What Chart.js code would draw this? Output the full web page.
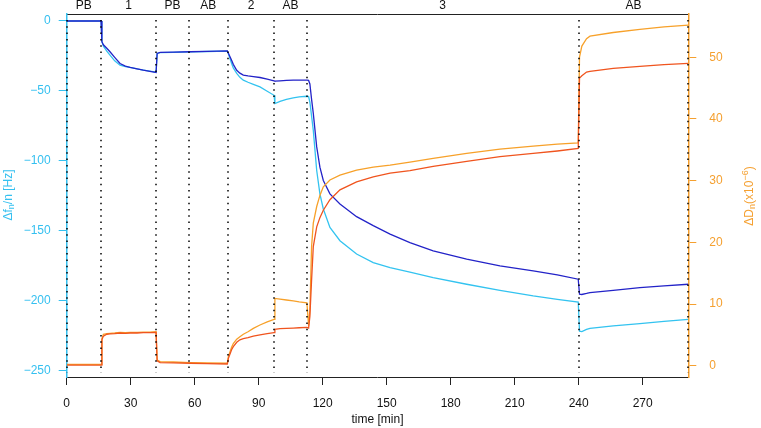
<!DOCTYPE html>
<html>
<head>
<meta charset="utf-8">
<script src="https://cdn.jsdelivr.net/npm/chart.js@4.4.1/dist/chart.umd.min.js"></script>
<style>
  html, body { margin: 0; padding: 0; background: #fff; }
  #wrap { width: 761px; height: 428px; }
</style>
</head>
<body>
<div id="wrap"><canvas id="qcmd" width="761" height="428"></canvas></div>
<script>
// time axis [min], shared by the four traces (repeated steps = buffer changes)
const timeMin = [
  0, 16.1, 16.5, 17.2, 18.8, 20.3, 22.5, 25, 27.5, 29.7, 33, 35.9, 39, 41.9,
  42.4, 43.8, 50, 57.8, 66, 75.3, 75.8, 77.3, 78.1, 79.7, 81.2, 82.8, 85, 87.5,
  90.6, 94, 97.2, 97.6, 100, 103, 106.2, 109, 112.6, 113.4, 114, 114.8, 115.6,
  117.2, 118.7, 120.3, 123.4, 128.1, 135.9, 143.7, 151.6, 160.9, 171.8, 187.5,
  203.1, 218.7, 230, 239.8, 240.4, 241.5, 243.7, 245.3, 256.2, 268.7, 280, 291.4
];
// frequency shift, dark blue overtone [Hz]
const dfBlue = [
  0, 0, -14.8, -17, -19.5, -22, -26, -30.4, -32.3, -33.2, -34.3, -35.2, -36, -36.8,
  -23.2, -22.5, -22.3, -22, -21.7, -21.3, -23, -28, -31, -35.2, -37.3, -38.7, -39.3, -39.8,
  -40.4, -41.6, -42.8, -43, -42.8, -42.5, -42.3, -42.3, -42.3, -42.5, -45, -56, -66,
  -90, -104.5, -114, -123.6, -130.8, -139.9, -146.3, -152.3, -158.5, -164.3, -170.2,
  -175, -178.6, -181.5, -184.6, -195.3, -195.5, -194.8, -194.2, -192.5, -190.6, -189.3, -188.2
];
// frequency shift, cyan overtone [Hz]
const dfCyan = [
  0, 0, -14.8, -18, -21.5, -24.4, -28.5, -31.6, -32.6, -33.2, -34.3, -35.1, -35.9, -36.6,
  -23.2, -22.6, -22.4, -22.1, -21.8, -21.6, -23.5, -30.4, -33.5, -37.5, -40.3, -42.3, -43.8, -45.3,
  -47.1, -50.2, -53.1, -59, -57.5, -56, -55, -54.3, -53.8, -54, -58, -68, -78.2,
  -106.9, -123.6, -134.4, -147.6, -157.1, -166.6, -172.7, -176.3, -179.5, -183.4, -188.2,
  -192.5, -196.5, -199, -200.9, -221.7, -222, -220.5, -219.7, -218, -216.4, -214.8, -213.3
];
// dissipation shift, red-orange overtone [x1e-6]
const dDRed = [
  0.1, 0.1, 4.2, 4.8, 5.1, 5.15, 5.2, 5.3, 5.25, 5.3, 5.3, 5.35, 5.35, 5.4,
  0.8, 0.5, 0.45, 0.4, 0.35, 0.28, 1.2, 2.6, 3.1, 3.8, 4.2, 4.4, 4.55, 4.8,
  5.0, 5.2, 5.35, 5.9, 6.0, 6.05, 6.1, 6.15, 6.2, 6.1, 8, 13.9, 19.3,
  22.5, 24, 25.2, 26.9, 28.5, 29.8, 30.6, 31.2, 31.6, 32.3, 33.1,
  33.9, 34.4, 34.8, 35.2, 46.6, 47, 47.6, 47.7, 48.2, 48.5, 48.8, 49.0
];
// dissipation shift, orange overtone [x1e-6]
const dDOrange = [
  0.2, 0.2, 4.4, 5.1, 5.2, 5.25, 5.3, 5.4, 5.35, 5.4, 5.4, 5.45, 5.45, 5.5,
  0.9, 0.65, 0.6, 0.5, 0.45, 0.4, 1.5, 3.0, 3.6, 4.3, 4.7, 5.1, 5.5, 6.05,
  6.6, 7.1, 7.5, 10.9, 10.8, 10.65, 10.5, 10.35, 10.2, 6.5, 9, 19.3, 23.1,
  25.8, 27.6, 29, 30.1, 30.9, 31.7, 32.2, 32.5, 33.0, 33.6, 34.4,
  35.1, 35.6, 35.9, 36.1, 50, 51.8, 53.0, 53.4, 54.0, 54.5, 54.9, 55.2
];

const xTicks = [0, 30, 60, 90, 120, 150, 180, 210, 240, 270];
const fTicks = [0, -50, -100, -150, -200, -250];
const dTicks = [0, 10, 20, 30, 40, 50];
const phaseEdges = [0, 16.1, 41.9, 57.3, 75.5, 97.3, 112.5, 240, 291.4];
const phaseNames = ['PB', '1', 'PB', 'AB', '2', 'AB', '3', 'AB'];

const FONT = '"Liberation Sans", Arial, Helvetica, sans-serif';
const CYAN = '#35c0f0';
const ORANGE = '#f5a030';
const INK = '#111';

function pts(ys) { return timeMin.map((t, i) => ({ x: t, y: ys[i] })); }

function minus(v) { return v < 0 ? '\u2212' + Math.abs(v) : String(v); }

// keep the plot box where the reference has it (no label overhang padding)
function noPad(s) { s.paddingTop = 0; s.paddingBottom = 0; s.paddingLeft = 0; s.paddingRight = 0; }

// dotted vertical lines at the buffer changes
const phaseLines = {
  id: 'phaseLines',
  afterDatasetsDraw(chart) {
    const { ctx, chartArea, scales } = chart;
    ctx.save();
    ctx.strokeStyle = '#000';
    ctx.lineWidth = 1.5;
    ctx.setLineDash([1.5, 4.8]);
    phaseEdges.forEach(t => {
      const x = Math.round(scales.x.getPixelForValue(t));
      ctx.beginPath();
      ctx.moveTo(x, chartArea.top + 6);
      ctx.lineTo(x, chartArea.bottom - 4);
      ctx.stroke();
    });
    ctx.restore();
  }
};

// rotated axis titles with sub/superscripts
function drawRich(ctx, parts, cx, cy, color) {
  ctx.save();
  ctx.translate(cx, cy);
  ctx.rotate(-Math.PI / 2);
  ctx.fillStyle = color;
  ctx.textBaseline = 'middle';
  ctx.textAlign = 'left';
  const fontOf = p => (p.sub || p.sup ? '9px ' : '12px ') + FONT;
  let w = 0;
  parts.forEach(p => { ctx.font = fontOf(p); w += ctx.measureText(p.t).width; });
  let x = -w / 2;
  parts.forEach(p => {
    ctx.font = fontOf(p);
    const dy = p.sub ? 3 : p.sup ? -4.5 : 0;
    ctx.fillText(p.t, x, dy);
    x += ctx.measureText(p.t).width;
  });
  ctx.restore();
}

const axisTitles = {
  id: 'axisTitles',
  afterDraw(chart) {
    const { ctx } = chart;
    drawRich(ctx, [{ t: '\u0394f' }, { t: 'n', sub: true }, { t: '/n [Hz]' }], 9, 195, CYAN);
    drawRich(ctx, [{ t: '\u0394D' }, { t: 'n', sub: true }, { t: '(x10' }, { t: '\u22126', sup: true }, { t: ')' }], 750, 196, ORANGE);
  }
};

const line = (label, ys, color, axis) => ({
  label, data: pts(ys), yAxisID: axis, xAxisID: 'x',
  borderColor: color, borderWidth: 1.3, pointRadius: 0, tension: 0, fill: false
});

new Chart(document.getElementById('qcmd'), {
  type: 'line',
  data: {
    datasets: [
      line('\u0394D red', dDRed, '#f0541e', 'yD'),
      line('\u0394D orange', dDOrange, '#f7a12a', 'yD'),
      line('\u0394f blue', dfBlue, '#2323c8', 'yF'),
      line('\u0394f cyan', dfCyan, '#33c3f0', 'yF')
    ]
  },
  options: {
    responsive: false,
    animation: false,
    devicePixelRatio: 1,
    layout: { padding: 0 },
    plugins: { legend: { display: false }, tooltip: { enabled: false } },
    scales: {
      x: {
        type: 'linear', position: 'bottom', min: 0, max: 291.4,
        afterBuildTicks: s => { s.ticks = xTicks.map(v => ({ value: v })); },
        afterFit: s => { s.height = 51; noPad(s); },
        ticks: { color: INK, font: { size: 12, family: FONT }, padding: 11, maxRotation: 0, autoSkip: false },
        grid: { drawOnChartArea: false, tickLength: 8, color: '#222' },
        border: { color: '#222', width: 1 },
        title: { display: true, text: 'time [min]', color: INK, font: { size: 12, family: FONT }, padding: { top: 0, bottom: 1 } }
      },
      xTop: {
        type: 'linear', position: 'top', min: 0, max: 291.4,
        afterBuildTicks: s => {
          s.ticks = phaseNames.map((n, i) => ({ value: (phaseEdges[i] + phaseEdges[i + 1]) / 2 }));
        },
        afterFit: s => { s.height = 14; noPad(s); },
        ticks: {
          color: INK, font: { size: 12, family: FONT }, padding: 1, maxRotation: 0, autoSkip: false,
          callback: (v, i) => phaseNames[i]
        },
        grid: { drawOnChartArea: false, drawTicks: false },
        border: { color: '#222', width: 1 }
      },
      yF: {
        type: 'linear', position: 'left', min: -254.5, max: 5,
        afterBuildTicks: s => { s.ticks = fTicks.map(v => ({ value: v })); },
        afterFit: s => { s.width = 66.7; noPad(s); },
        ticks: { color: CYAN, font: { size: 12, family: FONT }, padding: 8, callback: minus },
        grid: { drawOnChartArea: false, tickLength: 8, color: CYAN },
        border: { color: CYAN, width: 1.5 }
      },
      yD: {
        type: 'linear', position: 'right', min: -1.83, max: 57,
        afterBuildTicks: s => { s.ticks = dTicks.map(v => ({ value: v })); },
        afterFit: s => { s.width = 72.7; noPad(s); },
        ticks: { color: ORANGE, font: { size: 12, family: FONT }, padding: 13 },
        grid: { drawOnChartArea: false, tickLength: 8, color: ORANGE },
        border: { color: ORANGE, width: 1.5 }
      }
    }
  },
  plugins: [phaseLines, axisTitles]
});
</script>
</body>
</html>
